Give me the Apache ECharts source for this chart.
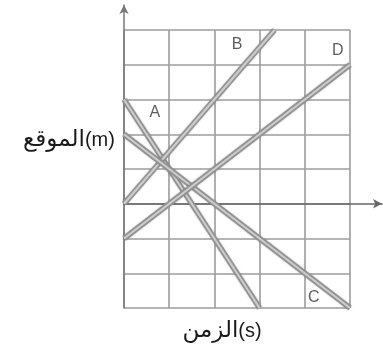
<!DOCTYPE html>
<html>
<head>
<meta charset="utf-8">
<script src="https://cdn.jsdelivr.net/npm/echarts@6/dist/echarts.min.js"></script>
<style>
  html, body { margin: 0; padding: 0; background: #fff; }
  #chart { width: 383px; height: 351px; }
</style>
</head>
<body>
<div id="chart"></div>
<script>
// time ticks (columns) and position ticks (rows)
var xTicks = [0, 1, 2, 3, 4, 5]
var yTicks = [-3, -2, -1, 0, 1, 2, 3, 4, 5]

// straight lines, start and end point [time, position]
var lineNames = ['A', 'B', 'C', 'D']
var lineA = [[0, 3], [3, -3]]
var lineB = [[0, 0], [3.33, 5]]
var lineC = [[0, 2], [5, -3]]
var lineD = [[0, -1], [5, 4]]

// where each letter sits
var labelAnchors = [[0.68, 2.62], [2.5, 4.58], [4.2, -2.7], [4.73, 4.42]]

// axis titles: arabic word + unit
var yTitle = ['الموقع', '(m)']
var xTitle = ['الزمن', '(s)']

var font = 'Liberation Sans, DejaVu Sans, sans-serif'
var arFont = 'DejaVu Sans, sans-serif'
var gridColor = '#9c9c9c'

var lines = [lineA, lineB, lineC, lineD]
var series = []
lines.forEach(function(pts, i) {
  // darker outer stroke + light core gives the tube look
  series.push({
    type: 'line',
    name: lineNames[i] + '-outer',
    xAxisIndex: 0,
    yAxisIndex: 0,
    data: pts,
    symbol: 'none',
    silent: true,
    lineStyle: { color: '#939393', width: 5.5, shadowColor: 'rgba(0,0,0,0.25)', shadowBlur: 2 }
  })
  series.push({
    type: 'line',
    name: lineNames[i],
    xAxisIndex: 0,
    yAxisIndex: 0,
    data: pts,
    symbol: 'none',
    silent: true,
    lineStyle: { color: '#cdcdcd', width: 2 }
  })
})

series.push({
  type: 'scatter',
  xAxisIndex: 0,
  yAxisIndex: 0,
  symbolSize: 0,
  data: labelAnchors.map(function(p, i) {
    return { value: p, name: lineNames[i] }
  }),
  label: {
    show: true,
    position: 'inside',
    formatter: '{b}',
    color: '#333',
    fontSize: 16,
    fontFamily: font
  },
  z: 5
})

var titleRich = {
  ar: { fontSize: 23, fontFamily: arFont, fill: '#1a1a1a', color: '#1a1a1a' },
  en: { fontSize: 20, fontFamily: font, fill: '#1a1a1a', color: '#1a1a1a' }
}

var option = {
  animation: false,
  grid: [
    { left: 124, right: 33, top: 30, bottom: 43 },
    { left: 124, right: 1, top: 5, bottom: 43 }
  ],
  xAxis: [
    {
      gridIndex: 0,
      type: 'value',
      min: xTicks[0],
      max: xTicks[xTicks.length - 1],
      interval: 1,
      axisLine: { show: false },
      axisTick: { show: false },
      axisLabel: { show: false },
      splitLine: { show: true, lineStyle: { color: gridColor, width: 1.6 } }
    },
    {
      // arrow axis, reaches past the grid
      gridIndex: 1,
      type: 'value',
      min: 0,
      max: 1,
      axisLine: {
        show: true,
        onZero: true,
        symbol: ['none', 'arrow'],
        symbolSize: [7, 9],
        lineStyle: { color: '#666', width: 1.5 }
      },
      axisTick: { show: false },
      axisLabel: { show: false },
      splitLine: { show: false }
    }
  ],
  yAxis: [
    {
      gridIndex: 0,
      type: 'value',
      min: yTicks[0],
      max: yTicks[yTicks.length - 1],
      interval: 1,
      axisLine: { show: false },
      axisTick: { show: false },
      axisLabel: { show: false },
      splitLine: { show: true, lineStyle: { color: gridColor, width: 1.6 } }
    },
    {
      gridIndex: 1,
      type: 'value',
      min: yTicks[0],
      max: 5.72,
      axisLine: {
        show: true,
        symbol: ['none', 'arrow'],
        symbolSize: [7, 9],
        lineStyle: { color: '#777', width: 1.5 }
      },
      axisTick: { show: false },
      axisLabel: { show: false },
      splitLine: { show: false }
    }
  ],
  graphic: [
    {
      type: 'text',
      x: 69,
      y: 140,
      style: {
        text: '{ar|' + yTitle[0] + '}{en|' + yTitle[1] + '}',
        align: 'center',
        verticalAlign: 'middle',
        rich: titleRich
      }
    },
    {
      type: 'text',
      x: 222,
      y: 331,
      style: {
        text: '{ar|' + xTitle[0] + '}{en|' + xTitle[1] + '}',
        align: 'center',
        verticalAlign: 'middle',
        rich: titleRich
      }
    }
  ],
  series: series
}

var myChart = echarts.init(document.getElementById('chart'))
myChart.setOption(option)
</script>
</body>
</html>
